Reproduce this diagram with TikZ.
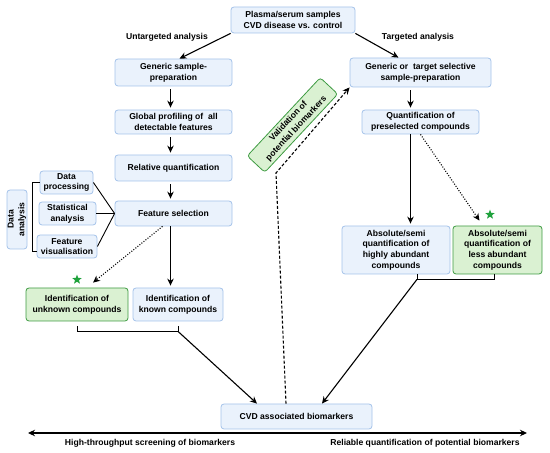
\documentclass[tikz,border=0pt]{standalone}
\usepackage{fontspec}
\setmainfont{Liberation Sans}
\usetikzlibrary{arrows.meta,shapes.geometric}
\definecolor{boxblue}{HTML}{EAF2FC}
\definecolor{boxblueline}{HTML}{A4C3EA}
\definecolor{boxgreen}{HTML}{DAF1D2}
\definecolor{boxgreenline}{HTML}{3E9B42}
\definecolor{stargreen}{HTML}{1FA23C}
\tikzset{
  box/.style={draw=boxblueline, fill=boxblue, rounded corners=3pt, align=center,
    inner sep=1pt, line width=.8pt, font=\bfseries\fontsize{8.6}{10.7}\selectfont},
  gbox/.style={box, draw=boxgreenline, fill=boxgreen},
  lbl/.style={font=\bfseries\fontsize{8.6}{10.7}\selectfont},
  arr/.style={-{Stealth[length=7pt,width=6.5pt]}, line width=1.1pt},
  vstep/.style={arr, shorten <=3pt, shorten >=2pt},
  dotarr/.style={arr, dash pattern=on 1pt off 1.6pt},
  dasharr/.style={arr, dash pattern=on 3pt off 2pt},
  brace/.style={line width=.9pt},
  bstar/.style={star, star points=5, star point ratio=2.4, fill=stargreen,
    inner sep=0pt, minimum size=10pt},
}
\begin{document}
\begin{tikzpicture}[x=1pt,y=1pt]
\useasboundingbox (0,0) rectangle (550,453);

% Samples
  \node[box, minimum width=124pt, minimum height=26pt] (S) at (293,433)
        {Plasma/serum samples\\CVD disease vs. control};
  \node[lbl] (Lu) at (167,416) {Untargeted analysis};
  \node[lbl] (Lt) at (418,416) {Targeted analysis};

%%%%%%%%%%%%%%
% Untargeted
%%%%%%%%%%%%%%
  \node[box, minimum width=117pt, minimum height=27pt] (G1) at (173.5,380.5)
        {Generic sample-\\preparation};
  \node[box, minimum width=117pt, minimum height=24pt] (G2) at (173.5,331)
        {Global profiling of~ all\\detectable features};
  \node[box, minimum width=117pt, minimum height=26pt] (R) at (173.5,285)
        {Relative quantification};
  \node[box, minimum width=117pt, minimum height=25pt] (F) at (173.5,239.5)
        {Feature selection};

  % data analysis
  \node[box, minimum width=53pt, minimum height=23pt] (P) at (66.5,270.5)
        {Data\\processing};
  \node[box, minimum width=57pt, minimum height=23pt] (St) at (67.5,239.5)
        {Statistical\\analysis};
  \node[box, minimum width=60pt, minimum height=23pt] (Fv) at (67,206.5)
        {Feature\\visualisation};
  \node[box, rotate=90, inner sep=0pt, minimum width=59pt, minimum height=20pt] (D)
        at (17,233.5) {Data\\analysis};

  \coordinate (br) at (32,202);
  \draw[brace] (P.west) -| (br) -- (br -| Fv.west);
  \draw[brace] (P.east) -- (F.west);
  \draw[brace] (St.east) -- (F.west);
  \draw[brace] (Fv.east) -- (F.west);

  % identification
  \node[gbox, minimum width=102pt, minimum height=33pt] (U) at (77,148.5)
        {Identification of\\unknown compounds};
  \node[box, minimum width=90pt, minimum height=33pt] (K) at (178,148.5)
        {Identification of\\known compounds};
  \node[bstar] (s1) at ([yshift=8pt]U.north) {};

  % legs
  \draw[arr] (S.south west) -- ([xshift=6pt]G1.north);
  \draw[vstep] ([xshift=-3pt]G1.south) -- ([xshift=-3pt]G2.north);
  \draw[vstep] ([xshift=-3pt]G2.south) -- ([xshift=-3pt]R.north);
  \draw[vstep] ([xshift=-3pt]R.south) -- ([xshift=-3pt]F.north);
  \draw[arr, shorten >=2pt] ([xshift=-3pt]F.south) -- ([xshift=-3pt]F.south |- K.north);
  \draw[dotarr] ([xshift=-11pt]F.south) -- ([xshift=16pt,yshift=5pt]U.north);

%%%%%%%%%%%%%%
% Targeted
%%%%%%%%%%%%%%
  \node[box, minimum width=141pt, minimum height=29pt] (T1) at (420.5,380.5)
        {Generic or~ target selective\\sample-preparation};
  \node[box, minimum width=117pt, minimum height=24pt] (Q) at (420.5,331)
        {Quantification of\\preselected compounds};
  \node[box, minimum width=108pt, minimum height=48pt] (H) at (396,203)
        {Absolute/semi\\quantification of\\highly abundant\\compounds};
  \node[gbox, minimum width=89pt, minimum height=48pt] (L) at (497.5,203)
        {Absolute/semi\\quantification of\\less abundant\\compounds};
  \node[bstar] (s2) at ([xshift=-7.5pt,yshift=11pt]L.north) {};

  % legs
  \draw[arr] (S.south east) -- ([xshift=-22pt]T1.north);
  \draw[vstep] ([xshift=-10pt]T1.south) -- ([xshift=-10pt]Q.north);
  \draw[arr, shorten >=2pt] ([xshift=-10pt]Q.south) -- ([xshift=-10pt]Q.south |- H.north);
  \draw[dotarr] (Q.south) -- ([xshift=-18pt,yshift=5pt]L.north);

%%%%%%%%%%%%%%
% Biomarkers
%%%%%%%%%%%%%%
  \node[box, minimum width=151pt, minimum height=25pt] (C) at (296.5,36.5)
        {CVD associated biomarkers};
  \node[gbox, rotate=47, minimum width=107pt, minimum height=24pt] (V) at (292.5,328)
        {Validation of\\potential biomarkers};

  \draw[brace] ([yshift=-5pt]U.south) |- ([yshift=-10pt]K.south) coordinate (uk)
        -- ([yshift=-5pt]K.south);
  \draw[arr] (uk) -- ([xshift=-39.5pt]C.north);

  \draw[brace] ([xshift=21pt]H.south) -- ++(0,-5) coordinate (hl)
        -| ([xshift=-3.5pt]L.south);
  \draw[arr] (hl) -- ([xshift=25.5pt]C.north);

  \coordinate (vb) at (276,280);
  \draw[dasharr] ([xshift=-10.5pt]C.north) -- (vb) -- (T1.south west);

%%%%%%%%%%%
% Axis
%%%%%%%%%%%
  \coordinate (axL) at (28,20);
  \coordinate (axR) at (527,20);
  \draw[{Stealth[length=7pt,width=6.5pt]}-{Stealth[length=7pt,width=6.5pt]}, line width=1.1pt]
        (axL) -- (axR);
  \node[lbl] (Lh) at (150,10) {High-throughput screening of biomarkers};
  \node[lbl] (Lr) at (425,10) {Reliable quantification of potential biomarkers};

\end{tikzpicture}
\end{document}
